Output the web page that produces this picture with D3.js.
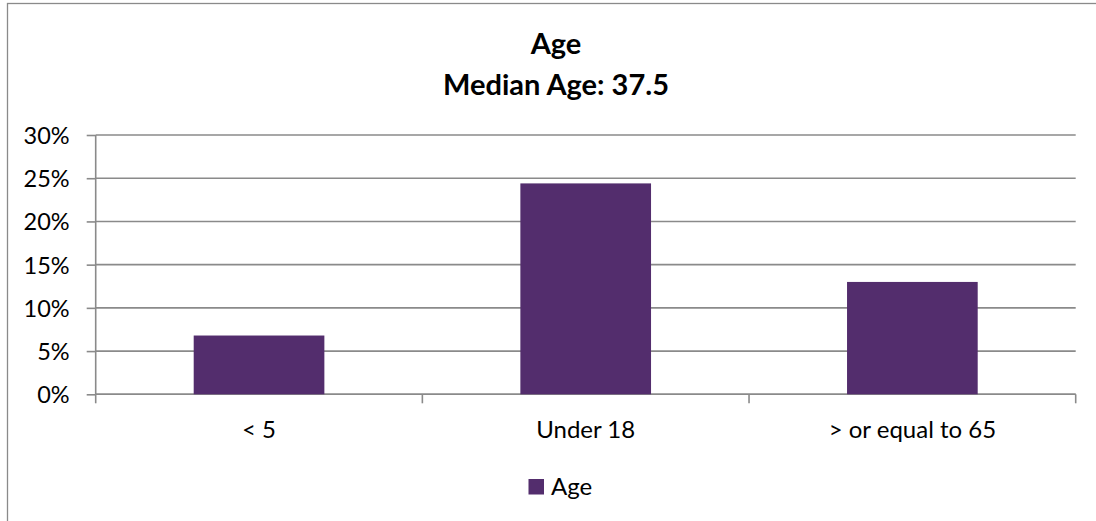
<!DOCTYPE html>
<html>
<head>
<meta charset="utf-8">
<script src="https://cdn.jsdelivr.net/npm/d3@7"></script>
<style>
  html, body { margin: 0; padding: 0; background: #fff; }
  svg { display: block; }
  text { font-family: Lato, "Open Sans", sans-serif; fill: #000; }
</style>
</head>
<body>
<svg id="chart" width="1096" height="521"></svg>
<script>
const categories = ["< 5", "Under 18", "> or equal to 65"];
const seriesName = "Age";
const values = [6.8, 24.4, 13.0];
const yTicks = [0, 5, 10, 15, 20, 25, 30];
const titleLines = ["Age", "Median Age: 37.5"];

const svg = d3.select("#chart");
const W = 1096, H = 521;
const plot = { left: 95.7, right: 1075.7, top: 135, bottom: 394.3 };
const barColor = "#532D6D";
const gridColor = "#8A8A8A";

// outer chart border
svg.append("rect")
  .attr("x", 7.5).attr("y", 3.5)
  .attr("width", W + 20).attr("height", H + 20)
  .attr("fill", "#fff").attr("stroke", "#8A8A8A").attr("stroke-width", 1.3);

const x = d3.scaleBand().domain(categories).range([plot.left, plot.right]).padding(0);
const y = d3.scaleLinear().domain([0, 30]).range([plot.bottom, plot.top]);

// gridlines
svg.append("g").selectAll("line").data(yTicks).join("line")
  .attr("x1", plot.left).attr("x2", plot.right)
  .attr("y1", d => y(d)).attr("y2", d => y(d))
  .attr("stroke", gridColor).attr("stroke-width", 1.6);

// y axis
const yAxis = d3.axisLeft(y).tickValues(yTicks).tickSize(9).tickPadding(17)
  .tickFormat(d => d + "%");
const gy = svg.append("g").attr("transform", `translate(${plot.left},0)`).call(yAxis);
gy.select(".domain").attr("stroke", gridColor).attr("stroke-width", 1.6)
  .attr("d", `M0,${plot.top}V${plot.bottom}`);
gy.selectAll(".tick line").attr("stroke", gridColor).attr("stroke-width", 1.6);
gy.selectAll(".tick text").attr("font-size", 23.5).attr("font-family", "Lato")
  .attr("fill", "#000").attr("dy", "0.36em");

// x axis
const gx = svg.append("g").attr("transform", `translate(0,${plot.bottom})`)
  .call(d3.axisBottom(x).tickSize(0).tickPadding(27));
gx.select(".domain").remove();
gx.selectAll(".tick text").attr("font-size", 24).attr("font-family", "Lato").attr("fill", "#000");
const bounds = categories.map(c => x(c)).concat([x(categories[categories.length - 1]) + x.bandwidth()]);
svg.append("g").selectAll("line").data(bounds).join("line")
  .attr("x1", d => d).attr("x2", d => d)
  .attr("y1", plot.bottom).attr("y2", plot.bottom + 9)
  .attr("stroke", gridColor).attr("stroke-width", 1.6);
svg.append("line")
  .attr("x1", plot.left).attr("x2", plot.right)
  .attr("y1", plot.bottom).attr("y2", plot.bottom)
  .attr("stroke", gridColor).attr("stroke-width", 1.6);

// bars
const barW = x.bandwidth() * 0.4;
svg.append("g").selectAll("rect").data(values).join("rect")
  .attr("x", (d, i) => x(categories[i]) + (x.bandwidth() - barW) / 2)
  .attr("width", barW)
  .attr("y", d => y(d))
  .attr("height", d => y(0) - y(d))
  .attr("fill", barColor);

// title
svg.append("text").attr("x", 556).attr("y", 54).attr("text-anchor", "middle")
  .attr("font-size", 29).attr("font-weight", "bold").text(titleLines[0]);
svg.append("text").attr("x", 556).attr("y", 95).attr("text-anchor", "middle")
  .attr("font-size", 29).attr("font-weight", "bold").text(titleLines[1]);

// legend
svg.append("rect").attr("x", 528.5).attr("y", 479).attr("width", 15.5).attr("height", 15.5)
  .attr("fill", barColor);
svg.append("text").attr("x", 551).attr("y", 495).attr("font-size", 24).text(seriesName);
</script>
</body>
</html>
